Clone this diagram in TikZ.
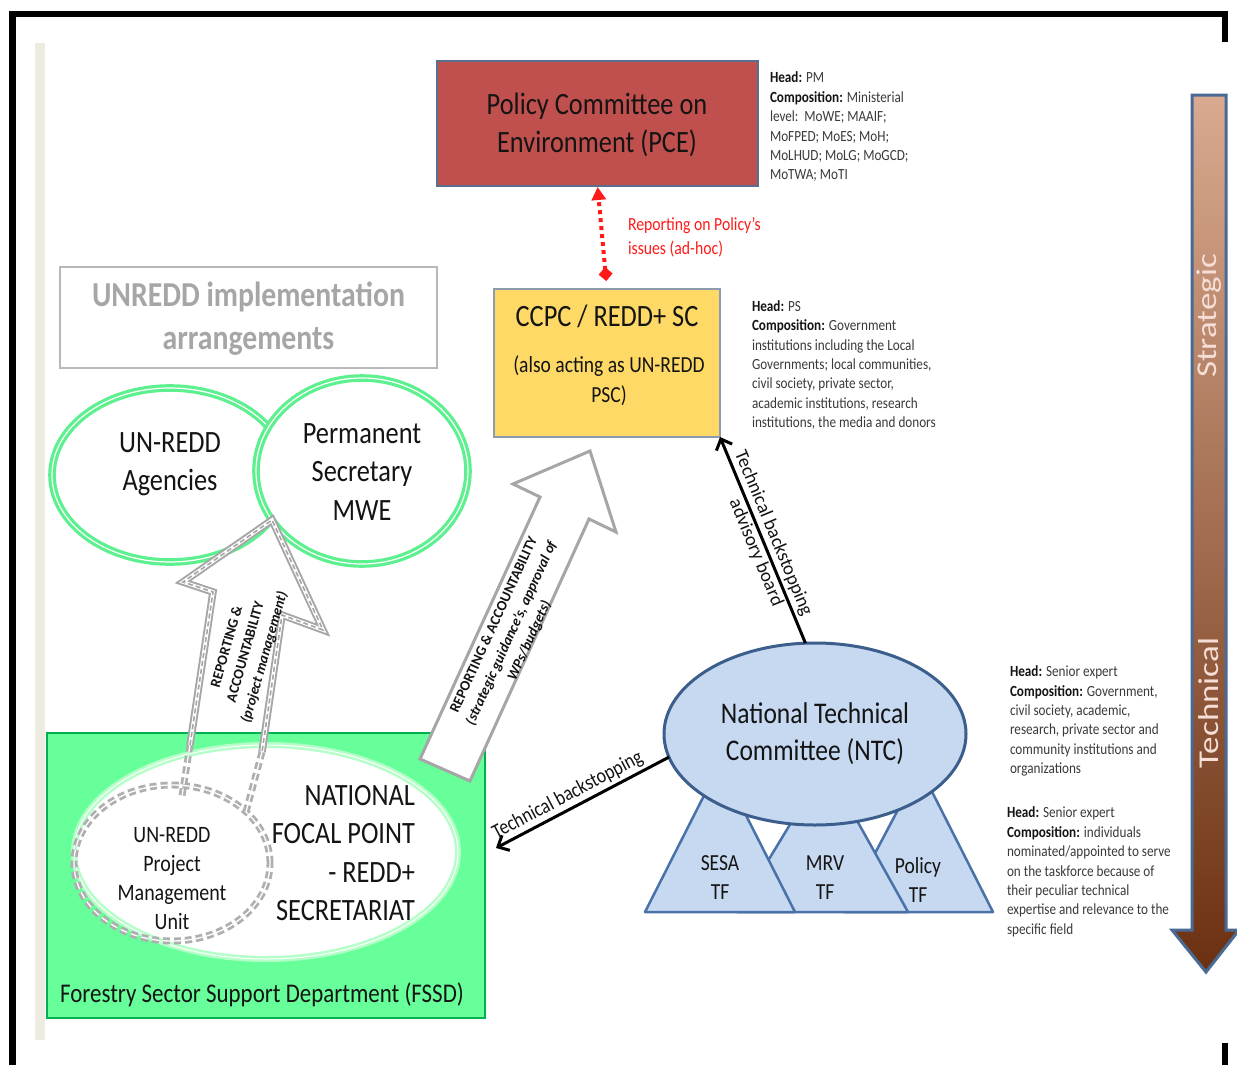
\documentclass[tikz,border=0pt]{standalone}
\usepackage{fontspec}
\setmainfont{Carlito}
\newfontfamily\cf[FakeStretch=0.85]{Carlito}
\usepackage{graphicx}
\usetikzlibrary{arrows.meta,shapes.geometric}
\definecolor{pcered}{HTML}{C0504D}
\definecolor{pceborder}{HTML}{5B6E8E}
\definecolor{ccpcyel}{HTML}{FFD966}
\definecolor{ccpcborder}{HTML}{8C9BB0}
\definecolor{ringgreen}{HTML}{5CF08E}
\definecolor{paleg}{HTML}{B4FFC8}
\definecolor{fssdgreen}{HTML}{66FF99}
\definecolor{fssdborder}{HTML}{00B050}
\definecolor{ntcblue}{HTML}{C6D9F1}
\definecolor{ntcborder}{HTML}{3B5E8C}
\definecolor{tfborder}{HTML}{4A72A8}
\definecolor{arrgray}{HTML}{A6A6A6}
\definecolor{txt}{HTML}{141414}
\definecolor{notec}{HTML}{3A3A3A}
\definecolor{beige}{HTML}{EEEBE0}
\definecolor{stratTop}{HTML}{D9AA90}
\definecolor{stratBot}{HTML}{6B3011}
\definecolor{stratBorder}{HTML}{4A6A96}
\definecolor{stratTxt}{HTML}{F6DED6}
\definecolor{redtxt}{HTML}{FF1A1A}
\definecolor{unreddgray}{HTML}{A6A6A6}
\begin{document}
\begin{tikzpicture}[x=1pt,y=-1pt,
  every node/.style={inner sep=0pt, outer sep=0pt},
  titletext/.style={font=\cf\fontsize{31}{38.5}\selectfont, align=center, text=txt},
  notetext/.style={font=\cf\fontsize{15.5}{19.4}\selectfont, align=left, text=notec, anchor=west},
  greenring/.style={ellipse, draw=ringgreen, line width=3.2pt, double=white, double distance=1.2pt},
  tri/.style={fill=ntcblue, draw=tfborder, line width=2.5pt, line join=round},
  tftext/.style={font=\cf\fontsize{23}{29}\selectfont, align=center, text=txt},
  blackarrow/.style={line width=3pt, -{Straight Barb[length=9pt,width=17pt]}},
  bigarrow/.style={draw=arrgray, line width=3pt, fill=white, line join=miter},
  arrtext/.style={font=\bfseries\fontsize{14.5}{19.5}\selectfont, align=center, text=txt},
]
\useasboundingbox (0,0) rectangle (1237,1065);
\fill[white] (0,0) rectangle (1237,1065);

% frame
\draw[line width=6.5pt, line join=miter] (12.5,1070) -- (12.5,14) -- (1225,14) -- (1225,42);
\draw[line width=6.5pt] (1225,1043) -- (1225,1070);
\fill[beige] (35,43) rectangle (45,1040);

% top boxes
\node[draw=pceborder, fill=pcered, line width=1.5pt, minimum width=321pt, minimum height=125pt] (pce) at (597.5,123.5) {};
\node[titletext] (pcetxt) at (597,125) {Policy Committee on\\Environment (PCE)};

\node[draw=ccpcborder, fill=ccpcyel, line width=1.2pt, minimum width=226pt, minimum height=148pt] (ccpc) at (607,363) {};
\node[titletext] (ccpctitle) at (607,316) {CCPC / REDD+ SC};
\node[font=\cf\fontsize{23}{30}\selectfont, align=center, text=txt] (ccpcsub) at (609,381) {(also acting as UN-REDD\\PSC)};

\node[draw=unreddgray!80, line width=1.5pt, minimum width=377pt, minimum height=101pt] (unbox) at (248.5,317.5) {};
\node[font=\cf\bfseries\fontsize{35}{43}\selectfont, align=center, text=unreddgray] (untxt) at (248.5,319) {UNREDD implementation\\arrangements};

% red dotted reporting arrow
\draw[redtxt, line width=4pt, dash pattern=on 4pt off 4pt,
  {Diamond[length=14pt,width=14pt]}-{Triangle[length=13pt,width=14pt]},
  shorten <=8pt, shorten >=1pt] (ccpc.north) -- (pce.south);
\node[font=\cf\fontsize{18.5}{24}\selectfont, align=left, text=redtxt, anchor=west] (redlbl) at (628,237) {Reporting on Policy’s\\issues (ad-hoc)};

% green ellipses
\node[greenring, fill=white, minimum width=236pt, minimum height=174pt] (agencies) at (170,475) {};
\node[titletext] (agtxt) at (170,464) {UN-REDD\\Agencies};
\node[greenring, fill=white, minimum width=212pt, minimum height=186pt] (ps) at (362,471) {};
\node[titletext] (pstxt) at (362,472) {Permanent\\Secretary\\MWE};

% FSSD box
\node[draw=fssdborder, fill=fssdgreen, line width=2.5pt, minimum width=438pt, minimum height=285pt] (fssd) at (266,875.5) {};
\node[font=\cf\fontsize{27}{30}\selectfont, text=txt] (fssdtxt) at (262,995) {Forestry Sector Support Department (FSSD)};
\node[ellipse, draw=paleg, line width=2.5pt, double=white, double distance=1pt, fill=white, minimum width=384pt, minimum height=214pt] (nfp) at (266,852) {};
\node[titletext, align=right, anchor=east] (nfptxt) at (415,853) {NATIONAL\\FOCAL POINT\\- REDD+\\SECRETARIAT};
\node[ellipse, draw=arrgray!90, line width=2.8pt, double=white, double distance=1.3pt, dash pattern=on 7pt off 4pt, minimum width=196pt, minimum height=156pt] (pmu) at (172,863) {};
\node[font=\cf\fontsize{23.5}{29}\selectfont, align=center, text=txt] (pmutxt) at (172,879) {UN-REDD\\Project\\Management\\Unit};

% small dashed reporting arrow (project management)
\draw[arrgray, line width=7.5pt, line join=miter] (190,745) -- (213,592) -- (183,582) -- (272,520) -- (323,630) -- (282,615) -- (262,752);
\draw[white, line width=3.6pt, line join=miter] (190,745) -- (213,592) -- (183,582) -- (272,520) -- (323,630) -- (282,615) -- (262,752);
\draw[arrgray, line width=1.6pt, dash pattern=on 5pt off 3pt, line join=miter] (190,745) -- (213,592) -- (183,582) -- (272,520) -- (323,630) -- (282,615) -- (262,752);
\draw[arrgray!90, line width=2.8pt, double=white, double distance=1.3pt, dash pattern=on 7pt off 4pt] (190,745) -- (182,796);
\draw[arrgray!90, line width=2.8pt, double=white, double distance=1.3pt, dash pattern=on 7pt off 4pt] (262,752) -- (246,812);
\node[rotate=74, arrtext] (smalltxt) at (246,652) {REPORTING \&\\ACCOUNTABILITY\\\textit{(project management)}};

% big hollow arrow
\draw[bigarrow] (420,759) -- (540,497) -- (513,484) -- (590,451) -- (616,532) -- (589,519) -- (470,781) -- cycle;
\node[rotate=65.5, arrtext] (bigtxt) at (512,633) {REPORTING \& ACCOUNTABILITY\\\textit{(strategic guidance’s, approval of}\\\textit{WPs/budgets)}};

% task force triangles and NTC
\draw[tri] (844,912) -- (993,912) -- (920,768) -- cycle;
\draw[tri] (737,912) -- (908,912) -- (826,765) -- cycle;
\draw[tri] (645,912) -- (795,912) -- (720,764) -- cycle;
\node[tftext] (sesa) at (720,878) {SESA\\TF};
\node[tftext] (mrv) at (825,878) {MRV\\TF};
\node[tftext] (policytf) at (918,880) {Policy\\TF};
\node[ellipse, fill=ntcblue, draw=ntcborder, line width=3pt, minimum width=302pt, minimum height=182pt, titletext, font=\cf\fontsize{30}{37}\selectfont] (ntc) at (815,734) {National Technical\\Committee (NTC)};

% black connectors
\coordinate (tbend) at (496,848);
\draw[blackarrow] (ntc.96) -- (ccpc.south east)
  node[pos=0.51, sloped, above=4pt, font=\fontsize{19}{21}\selectfont, text=txt] (lbl1) {Technical backstopping}
  node[pos=0.46, sloped, below=3pt, font=\fontsize{19}{21}\selectfont, text=txt] (lbl2) {advisory board};
\draw[blackarrow] (ntc.189) -- (tbend)
  node[pos=0.55, sloped, above=4pt, font=\cf\fontsize{21}{23}\selectfont, text=txt] (lbl3) {Technical backstopping};

% strategic / technical arrow
\shade[top color=stratTop, bottom color=stratBot] (1192,95) -- (1226,95) -- (1226,930) -- (1239,930) -- (1206,972) -- (1172,930) -- (1192,930) -- cycle;
\draw[stratBorder, line width=3pt, line join=miter] (1192,95) -- (1226,95) -- (1226,930) -- (1239,930) -- (1206,972) -- (1172,930) -- (1192,930) -- cycle;
\node[rotate=90, font=\fontsize{35}{35}\selectfont, text=stratTxt] (strat) at (1209,316) {\scalebox{1}[0.82]{Strategic}};
\node[rotate=90, font=\fontsize{35}{35}\selectfont, text=stratTxt] (tech) at (1209,703) {\scalebox{1}[0.82]{Technical}};

% notes
\node[notetext] (note1) at (770,127) {\textbf{\color{txt}Head:} PM\\\textbf{\color{txt}Composition:} Ministerial\\level:\ \ MoWE; MAAIF;\\MoFPED; MoES; MoH;\\MoLHUD; MoLG; MoGCD;\\MoTWA; MoTI};
\node[notetext] (note2) at (752,365) {\textbf{\color{txt}Head:} PS\\\textbf{\color{txt}Composition:} Government\\institutions including the Local\\Governments; local communities,\\civil society, private sector,\\academic institutions, research\\institutions, the media and donors};
\node[notetext] (note3) at (1010,721) {\textbf{\color{txt}Head:} Senior expert\\\textbf{\color{txt}Composition:} Government,\\civil society, academic,\\research, private sector and\\community institutions and\\organizations};
\node[notetext] (note4) at (1007,872) {\textbf{\color{txt}Head:} Senior expert\\\textbf{\color{txt}Composition:} individuals\\nominated/appointed to serve\\on the taskforce because of\\their peculiar technical\\expertise and relevance to the\\specific field};
\end{tikzpicture}
\end{document}
